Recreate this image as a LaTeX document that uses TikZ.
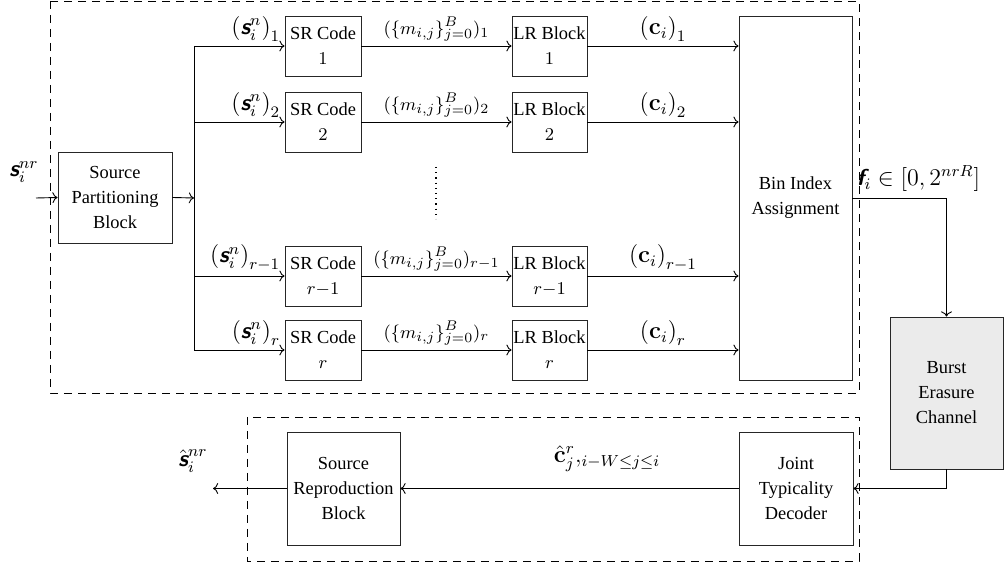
\documentclass[tikz,border=0pt]{standalone}
\usepackage{amsmath}
\usepackage[no-math]{fontspec}
\setmainfont{Liberation Serif}
\usetikzlibrary{arrows.meta,calc}
\newcommand{\svec}{\textsf{\bfseries\itshape s}}
\newcommand{\fvec}{\textsf{\bfseries\itshape f}}
\begin{document}
\begin{tikzpicture}[x=0.5pt,y=-0.5pt,
  every node/.style={font=\fontsize{9.2}{12.5}\selectfont},
  blk/.style={draw=black!85,align=center,inner sep=0pt},
  srbox/.style={blk,minimum width=38pt,minimum height=30pt},
  lrbox/.style={blk,minimum width=37.5pt,minimum height=30pt},
  conn/.style={->,line width=0.45pt},
  frame/.style={dash pattern=on 4pt off 3pt,line width=0.45pt},
  biglbl/.style={font=\fontsize{11.5}{13}\selectfont,inner sep=1pt},
  smlbl/.style={font=\fontsize{9.4}{12}\selectfont,inner sep=1pt}]
\useasboundingbox (0,0) rectangle (1008,565);
% frames
\draw[frame] (50,1) rectangle (859,393);
\draw[frame] (247,417) rectangle (859,561);
% source partitioning
\node[blk,minimum width=57pt,minimum height=45.5pt] (spb) at (115,197.5) {Source\\Partitioning\\Block};
\coordinate (in) at (36,198);
\node[biglbl] (sin) at (24,172) {$\svec_i^{nr}$};
\draw[conn] (in) -- (spb.west);
\coordinate (bus) at (194,198);
\draw[conn] (spb.east) -- (bus);
\coordinate (bustop) at (194,46);
\coordinate (busbot) at (194,350);
\draw[line width=0.45pt] (bustop) -- (busbot);
% rows
\foreach \k/\y/\lab/\sub in {1/46/1/1, 2/122/2/2, 3/276/r{-}1/r-1, 4/350/r/r}{
  \node[srbox] (sr\k) at (323,\y) {SR Code\\$\lab$};
  \node[lrbox] (lr\k) at (549.5,\y) {LR Block\\$\lab$};
  \coordinate (b\k) at (194,\y);
  \draw[conn] (b\k) -- (sr\k.west);
  \draw[conn] (sr\k.east) -- (lr\k.west);
  \node[biglbl,anchor=south east] (ls\k) at ([xshift=-1pt,yshift=1pt]sr\k.west) {$\left(\svec_i^n\right)_{\sub}$};
  \node[smlbl,anchor=south] (lm\k) at ($(sr\k.east)!0.5!(lr\k.west)+(0,-2)$) {$(\{m_{i,j}\}_{j=0}^B)_{\sub}$};
}
\node[blk,minimum width=56.5pt,minimum height=182pt] (bin) at (795.5,198) {Bin Index\\Assignment};
\foreach \k/\sub in {1/1,2/2,3/r-1,4/r}{
  \draw[conn] (lr\k.east) -- (lr\k.east -| bin.west);
  \node[biglbl,anchor=south] (lc\k) at ($(lr\k.east)!0.5!(lr\k.east -| bin.west)+(0,-2)$) {$\left(\mathbf{c}_i\right)_{\sub}$};
}
\coordinate (d1) at (436,167);
\coordinate (d2) at (436,219);
\draw[dotted,line width=0.6pt] (d1) -- (d2);
% channel
\node[blk,fill=black!8,minimum width=56.5pt,minimum height=76pt] (bec) at (946.5,393) {Burst\\Erasure\\Channel};
\draw[conn] (bin.east) -| (bec.north);
\node[biglbl,anchor=south west] (fl) at ([xshift=1pt,yshift=2pt]bin.east) {$\fvec_i\in[0,2^{nrR}]$};
% decoder
\node[blk,minimum width=57pt,minimum height=56.5pt] (jtd) at (796,488.5) {Joint\\Typicality\\Decoder};
\node[blk,minimum width=56.5pt,minimum height=56.5pt] (srb) at (343.5,488.5) {Source\\Reproduction\\Block};
\draw[conn] (bec.south) |- (jtd.east);
\draw[conn] (jtd.west) -- (srb.east);
\node[biglbl,anchor=south] (lch) at (607,474) {$\hat{\mathbf{c}}_j^r,_{i-W\le j\le i}$};
\coordinate (out) at (213,488.5);
\draw[conn] (srb.west) -- (out);
\node[biglbl] (shat) at (193,461) {$\hat{\svec}_i^{nr}$};
\end{tikzpicture}
\end{document}
